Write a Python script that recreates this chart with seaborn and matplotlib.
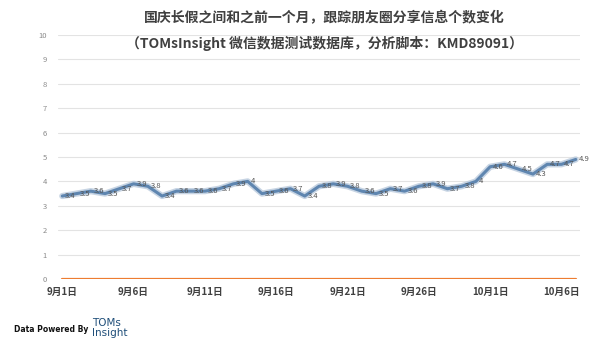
import matplotlib
matplotlib.use("Agg")
import matplotlib.pyplot as plt
import seaborn as sns
import pandas as pd
import numpy as np

sns.set_theme(style="white")
plt.rcParams['font.family'] = ['Noto Sans CJK SC', 'DejaVu Sans']

dates = [f"9月{d}日" for d in range(1, 31)] + [f"10月{d}日" for d in range(1, 8)]
shares = [3.4, 3.5, 3.6, 3.5, 3.7, 3.9, 3.8, 3.4, 3.6, 3.6, 3.6, 3.7, 3.9,
          4.0, 3.5, 3.6, 3.7, 3.4, 3.8, 3.9, 3.8, 3.6, 3.5, 3.7, 3.6, 3.8, 3.9,
          3.7, 3.8, 4.0, 4.6, 4.7, 4.5, 4.3, 4.7, 4.7, 4.9]
baseline = [0] * len(dates)
tick_labels = ["9月1日", "9月6日", "9月11日", "9月16日", "9月21日", "9月26日", "10月1日", "10月6日"]
title1 = "国庆长假之间和之前一个月，跟踪朋友圈分享信息个数变化"
title2 = "（TOMsInsight 微信数据测试数据库，分析脚本：KMD89091）"

df = pd.DataFrame({"idx": np.arange(len(dates)), "date": dates,
                   "shares": shares, "baseline": baseline})

fig = plt.figure(figsize=(6.03, 3.54), dpi=100)
ax = fig.add_axes([58/603, 1-279/354, (580-58)/603, (279-35)/354])

for y in range(1, 11):
    ax.axhline(y, color="#e3e3e3", lw=0.8, zorder=0)

sns.lineplot(data=df, x="idx", y="baseline", ax=ax, color="#ED7D31", lw=1.6, zorder=2)
# glow
sns.lineplot(data=df, x="idx", y="shares", ax=ax, color="#b9cadd", lw=4.5, zorder=3, alpha=0.8)
sns.lineplot(data=df, x="idx", y="shares", ax=ax, color="#5f86b0", lw=2.2, zorder=4)

for i, v in zip(df["idx"], df["shares"]):
    s = f"{v:g}"
    ax.annotate(s, (i, v), xytext=(2, 0), textcoords="offset points",
                ha="left", va="center", fontsize=5.5, color="#555555", zorder=5)

ax.set_xlim(-0.3, 36.3)
ax.set_ylim(0, 10)
ax.set_yticks(range(0, 11))
ax.set_yticklabels([str(y) for y in range(0, 11)], fontsize=5.5, color="#8a8a8a")
tick_pos = [dates.index(t) for t in tick_labels]
ax.set_xticks(tick_pos)
ax.set_xticklabels(tick_labels, fontsize=7, color="#404040", fontweight="bold")
ax.tick_params(axis="x", length=0, pad=6)
ax.tick_params(axis="y", length=0, pad=8)
ax.set_xlabel("")
ax.set_ylabel("")
for sp in ax.spines.values():
    sp.set_visible(False)

fig.text(324/603, 1-18/354, title1, ha="center", va="center", fontsize=10,
         fontweight="bold", color="#404040")
fig.text(324/603, 1-43/354, title2, ha="center", va="center", fontsize=10,
         fontweight="bold", color="#404040")

fig.text(14/603, 1-329/354, "Data Powered By", ha="left", va="center",
         fontsize=5.5, fontweight="bold", color="#111111", family=["DejaVu Sans"])
fig.text(92/603, 1-328/354, "TOMs\nInsight", ha="left", va="center",
         fontsize=7.5, color="#1f4e79", linespacing=1.0, family=["DejaVu Sans"])

fig.savefig("out.png", dpi=100)
